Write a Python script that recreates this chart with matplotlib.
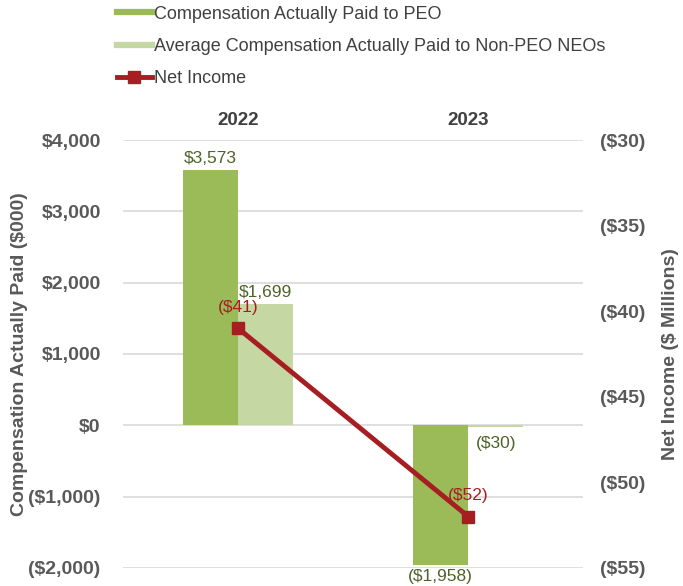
import matplotlib.pyplot as plt
import numpy as np
from matplotlib.lines import Line2D

# data
years = ['2022', '2023']
peo_cap = [3573, -1958]
neo_cap = [1699, -30]
net_income = [-41, -52]

peo_labels = ['$3,573', '($1,958)']
neo_labels = ['$1,699', '($30)']
ni_labels = ['($41)', '($52)']

left_ticks = [4000, 3000, 2000, 1000, 0, -1000, -2000]
left_ticklabels = ['$4,000', '$3,000', '$2,000', '$1,000', '$0', '($1,000)', '($2,000)']
right_ticks = [-30, -35, -40, -45, -50, -55]
right_ticklabels = ['($30)', '($35)', '($40)', '($45)', '($50)', '($55)']

green = '#9bbb59'
light_green = '#c5d8a3'
red = '#a61e22'
label_green = '#4f6228'
grey = '#595959'

plt.rcParams['font.family'] = ['Liberation Sans', 'DejaVu Sans']

fig = plt.figure(figsize=(6.83, 5.86), dpi=100)
ax = fig.add_axes([0.180, 0.031, 0.674, 0.730])

x = np.arange(len(years))
w = 0.24
ax.bar(x - w / 2, peo_cap, width=w, color=green, zorder=2)
ax.bar(x + w / 2, neo_cap, width=w, color=light_green, zorder=2)

ax.set_xlim(-0.5, 1.5)
ax.set_ylim(-2000, 4000)
ax.set_yticks(left_ticks)
ax.set_yticklabels(left_ticklabels, fontsize=14, fontweight='bold', color=grey)
ax.grid(axis='y', color='#d9d9d9', lw=1.2, zorder=0)
ax.set_axisbelow(True)
ax.xaxis.tick_top()
ax.set_xticks(x)
ax.set_xticklabels(years, fontsize=13.5, fontweight='bold', color='#404040')
ax.tick_params(length=0, pad=16)
ax.tick_params(axis='x', pad=8)
for s in ax.spines.values():
    s.set_visible(False)
ax.set_ylabel('Compensation Actually Paid ($000)', fontsize=14, fontweight='bold',
              color=grey, labelpad=0)

# bar value labels
for i in range(len(years)):
    v = peo_cap[i]
    off = 60 if v >= 0 else -60
    ax.text(x[i] - w / 2, v + off, peo_labels[i], ha='center',
            va='bottom' if v >= 0 else 'top', fontsize=12.5, color=label_green)
    v = neo_cap[i]
    ax.text(x[i] + w / 2, v + (60 if v >= 0 else -120), neo_labels[i], ha='center',
            va='bottom' if v >= 0 else 'top', fontsize=12.5, color=label_green)

ax2 = ax.twinx()
ax2.plot(x, net_income, color=red, lw=3.5, marker='s', markersize=9, zorder=3)
ax2.set_ylim(-55, -30)
ax2.set_yticks(right_ticks)
ax2.set_yticklabels(right_ticklabels, fontsize=14, fontweight='bold', color=grey)
ax2.tick_params(length=0, pad=12)
for s in ax2.spines.values():
    s.set_visible(False)
ax2.set_ylabel('Net Income ($ Millions)', fontsize=14, fontweight='bold', color=grey,
               labelpad=12)
for i in range(len(years)):
    ax2.text(x[i], net_income[i] + 0.8, ni_labels[i], ha='center', va='bottom',
             fontsize=12.5, color=red)

handles = [
    Line2D([], [], color=green, lw=4.5),
    Line2D([], [], color=light_green, lw=4.5),
    Line2D([], [], color=red, lw=3.5, marker='s', markersize=9),
]
names = ['Compensation Actually Paid to PEO',
         'Average Compensation Actually Paid to Non-PEO NEOs',
         'Net Income']
fig.legend(handles, names, loc='upper left', bbox_to_anchor=(0.148, 1.018),
           frameon=False, fontsize=13, handlelength=1.9, handletextpad=0.15,
           labelspacing=0.85, labelcolor='#404040')

fig.savefig('out.png', dpi=100)
